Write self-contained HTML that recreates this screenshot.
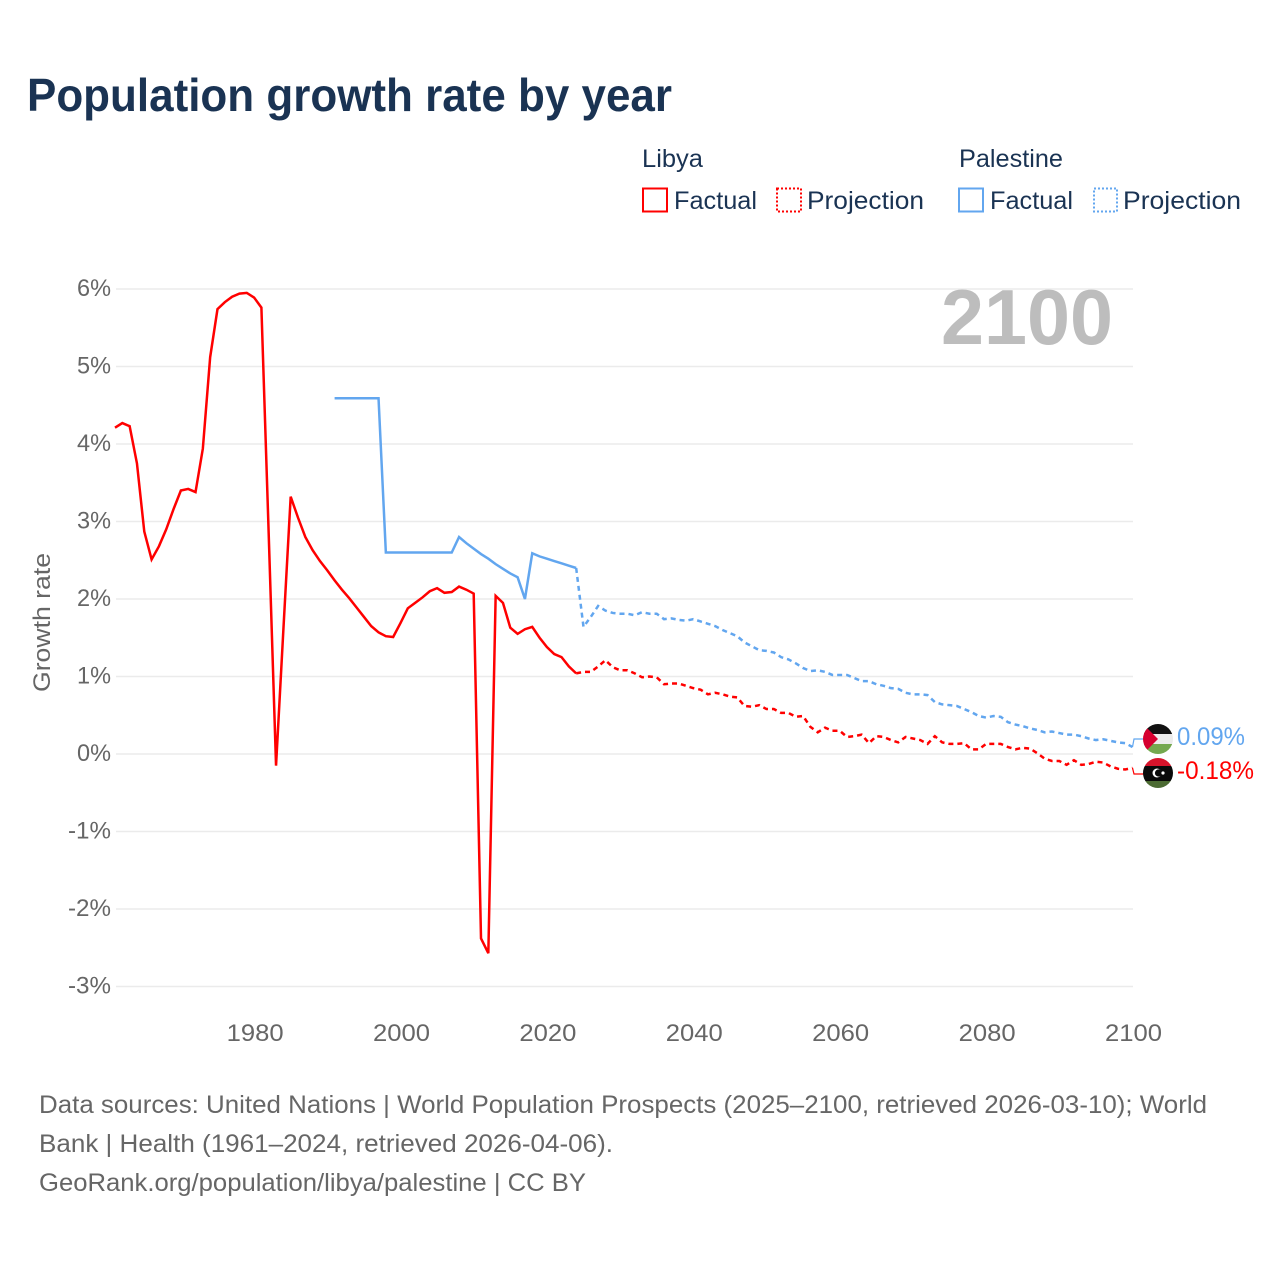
<!DOCTYPE html>
<html lang="en">
<head>
<meta charset="utf-8">
<title>Population growth rate by year</title>
<style>
html,body{margin:0;padding:0;background:#fff;width:1280px;height:1280px;overflow:hidden}
svg{display:block}
text{font-family:"Liberation Sans",sans-serif}
.tick{font-size:24px;fill:#666}
.foot{font-size:25px;fill:#666}
.leg{font-size:25px;fill:#1a3353}
</style>
</head>
<body>
<svg id="chart" width="1280" height="1280" viewBox="0 0 1280 1280" xmlns="http://www.w3.org/2000/svg">
  <defs>
    <clipPath id="clip-ps"><circle cx="1158" cy="739" r="15"/></clipPath>
    <clipPath id="clip-ly"><circle cx="1158" cy="773" r="15"/></clipPath>
  </defs>

  <text x="27" y="111" font-size="46" font-weight="700" fill="#1a3353" textLength="645" lengthAdjust="spacingAndGlyphs">Population growth rate by year</text>

  <g>
    <text class="leg" x="642" y="167" textLength="61" lengthAdjust="spacingAndGlyphs">Libya</text>
    <text class="leg" x="959" y="167" textLength="104" lengthAdjust="spacingAndGlyphs">Palestine</text>
    <rect x="643" y="188.500" width="24" height="23" fill="none" stroke="#ff0000" stroke-width="2"/>
    <text class="leg" x="674" y="209" textLength="83" lengthAdjust="spacingAndGlyphs">Factual</text>
    <rect x="777" y="188.500" width="24" height="23" fill="none" stroke="#ff0000" stroke-width="2" stroke-dasharray="2 2"/>
    <text class="leg" x="807" y="209" textLength="117" lengthAdjust="spacingAndGlyphs">Projection</text>
    <rect x="959" y="188.500" width="24" height="23" fill="none" stroke="#62a6ef" stroke-width="2"/>
    <text class="leg" x="990" y="209" textLength="83" lengthAdjust="spacingAndGlyphs">Factual</text>
    <rect x="1094" y="188.500" width="23" height="23" fill="none" stroke="#62a6ef" stroke-width="2" stroke-dasharray="2 2"/>
    <text class="leg" x="1123" y="209" textLength="118" lengthAdjust="spacingAndGlyphs">Projection</text>
  </g>

  <g id="grid"></g>
  <g id="yticks"></g>
  <g id="xticks"></g>

  <text x="941" y="344" font-size="78" font-weight="700" fill="#bdbdbd" textLength="172" lengthAdjust="spacingAndGlyphs">2100</text>

  <text class="tick" transform="translate(50,692) rotate(-90)" x="0" y="0" textLength="139" lengthAdjust="spacingAndGlyphs">Growth rate</text>

  <g id="series"></g>

  <g clip-path="url(#clip-ps)">
    <rect x="1143" y="724" width="30" height="10" fill="#111111"/>
    <rect x="1143" y="734" width="30" height="10" fill="#ececec"/>
    <rect x="1143" y="744" width="30" height="10" fill="#74a84f"/>
    <polygon points="1143,724 1158,739 1143,754" fill="#d6002f"/>
  </g>
  <g clip-path="url(#clip-ly)">
    <rect x="1143" y="758" width="30" height="8" fill="#d7142b"/>
    <rect x="1143" y="766" width="30" height="15" fill="#0a0a0a"/>
    <rect x="1143" y="781" width="30" height="7" fill="#4c6b33"/>
    <circle cx="1157" cy="773" r="4.500" fill="#ffffff"/>
    <circle cx="1158.500" cy="773" r="3.600" fill="#0a0a0a"/>
    <circle cx="1163" cy="773" r="1.600" fill="#ffffff"/>
  </g>

  <text x="1177" y="745" font-size="25" fill="#62a6ef" textLength="68" lengthAdjust="spacingAndGlyphs">0.09%</text>
  <text x="1177" y="779" font-size="25" fill="#ff0000" textLength="77" lengthAdjust="spacingAndGlyphs">-0.18%</text>

  <g>
    <text class="foot" x="39" y="1113" textLength="1168" lengthAdjust="spacingAndGlyphs">Data sources: United Nations | World Population Prospects (2025–2100, retrieved 2026-03-10); World</text>
    <text class="foot" x="39" y="1152" textLength="574" lengthAdjust="spacingAndGlyphs">Bank | Health (1961–2024, retrieved 2026-04-06).</text>
    <text class="foot" x="39" y="1191" textLength="547" lengthAdjust="spacingAndGlyphs">GeoRank.org/population/libya/palestine | CC BY</text>
  </g>
</svg>

<script>
const yTickValues = [6, 5, 4, 3, 2, 1, 0, -1, -2, -3];
const xTickYears = [1980, 2000, 2020, 2040, 2060, 2080, 2100];

const libyaFactualStart = 1961;
const libyaFactual = [4.21,4.27,4.23,3.75,2.87,2.51,2.68,2.90,3.16,3.40,3.42,3.38,3.94,5.12,5.74,5.83,5.90,5.94,5.95,5.89,5.76,2.83,-0.15,1.60,3.32,3.05,2.80,2.63,2.49,2.37,2.24,2.12,2.01,1.89,1.77,1.65,1.57,1.52,1.51,1.69,1.88,1.95,2.02,2.10,2.14,2.08,2.09,2.16,2.12,2.07,-2.38,-2.57,2.04,1.95,1.63,1.55,1.61,1.64,1.50,1.38,1.29,1.25,1.13,1.04];

const libyaProjectionStart = 2024;
const libyaProjection = [1.04,1.06,1.06,1.13,1.21,1.12,1.08,1.08,1.04,0.99,1.00,0.99,0.90,0.91,0.91,0.88,0.85,0.83,0.77,0.79,0.77,0.74,0.73,0.62,0.61,0.63,0.58,0.58,0.53,0.53,0.48,0.49,0.35,0.28,0.34,0.30,0.30,0.22,0.23,0.25,0.14,0.23,0.22,0.18,0.15,0.22,0.20,0.18,0.13,0.23,0.15,0.13,0.13,0.14,0.06,0.06,0.13,0.13,0.13,0.09,0.06,0.08,0.07,0.01,-0.06,-0.09,-0.09,-0.14,-0.08,-0.14,-0.13,-0.10,-0.11,-0.16,-0.19,-0.20,-0.18];

const palestineFactualStart = 1991;
const palestineFactual = [4.59,4.59,4.59,4.59,4.59,4.59,4.59,2.60,2.60,2.60,2.60,2.60,2.60,2.60,2.60,2.60,2.60,2.80,2.72,2.65,2.58,2.52,2.45,2.39,2.33,2.28,2.00,2.59,2.55,2.52,2.49,2.46,2.43,2.40];

const palestineProjectionStart = 2024;
const palestineProjection = [2.40,1.64,1.77,1.91,1.85,1.82,1.81,1.81,1.79,1.83,1.81,1.81,1.74,1.75,1.73,1.72,1.74,1.71,1.68,1.65,1.60,1.56,1.52,1.44,1.39,1.34,1.33,1.31,1.25,1.22,1.17,1.11,1.07,1.08,1.06,1.02,1.02,1.02,0.98,0.94,0.94,0.90,0.88,0.85,0.84,0.79,0.77,0.77,0.76,0.67,0.64,0.63,0.62,0.58,0.54,0.49,0.47,0.49,0.48,0.41,0.38,0.36,0.33,0.31,0.28,0.29,0.27,0.25,0.25,0.23,0.20,0.18,0.19,0.17,0.15,0.14,0.09];

const NS = 'http://www.w3.org/2000/svg';

function xScale(year) {
  return 115 + (year - 1961) * (1132.5 - 115) / (2100 - 1961);
}
function yScale(value) {
  return 754 - value * 77.5;
}
function pathFrom(values, startYear) {
  return values.map(function (v, i) {
    return (i ? 'L' : 'M') + xScale(startYear + i).toFixed(2) + ' ' + yScale(v).toFixed(2);
  }).join(' ');
}

const gridGroup = document.getElementById('grid');
const yTickGroup = document.getElementById('yticks');
yTickValues.forEach(function (v) {
  const line = document.createElementNS(NS, 'line');
  
  
  line.setAttribute('x1', 116);
  line.setAttribute('x2', 1133);
  line.setAttribute('y1', yScale(v));
  line.setAttribute('y2', yScale(v));
  line.setAttribute('stroke', '#ebebeb');
  line.setAttribute('stroke-width', '1.5');
  gridGroup.appendChild(line);

  const label = document.createElementNS(NS, 'text');
  
  
  label.setAttribute('class', 'tick');
  label.setAttribute('x', v < 0 ? 68 : 77);
  label.setAttribute('y', yScale(v) + 7);
  label.setAttribute('textLength', v < 0 ? 43 : 34);
  label.setAttribute('lengthAdjust', 'spacingAndGlyphs');
  label.textContent = v + '%';
  yTickGroup.appendChild(label);
});

const xTickGroup = document.getElementById('xticks');
xTickYears.forEach(function (y) {
  const label = document.createElementNS(NS, 'text');
  
  
  label.setAttribute('class', 'tick');
  label.setAttribute('x', xScale(y) - 27.5);
  label.setAttribute('y', 1041);
  label.setAttribute('textLength', 57);
  label.setAttribute('lengthAdjust', 'spacingAndGlyphs');
  label.textContent = y;
  xTickGroup.appendChild(label);
});

const seriesGroup = document.getElementById('series');

function addLine(d, color, dashed) {
  const p = document.createElementNS(NS, 'path');
  p.setAttribute('d', d);
  p.setAttribute('fill', 'none');
  p.setAttribute('stroke', color);
  p.setAttribute('stroke-width', '2.5');
  p.setAttribute('stroke-linejoin', 'miter');
  if (dashed) p.setAttribute('stroke-dasharray', '5 4');
  seriesGroup.appendChild(p);
  return p;
}

const palFactualLine = addLine(pathFrom(palestineFactual, palestineFactualStart), '#62a6ef', false);



const palProjLine = addLine(pathFrom(palestineProjection, palestineProjectionStart), '#62a6ef', true);



const libFactualLine = addLine(pathFrom(libyaFactual, libyaFactualStart), '#ff0000', false);



const libProjLine = addLine(pathFrom(libyaProjection, libyaProjectionStart), '#ff0000', true);



const palLast = palestineProjection[palestineProjection.length - 1];
const libLast = libyaProjection[libyaProjection.length - 1];

const palLeader = addLine('M' + xScale(2100) + ' ' + yScale(palLast) + ' L1134 739 L1145 739', '#62a6ef', false);
palLeader.setAttribute('stroke-width', '1.2');



const libLeader = addLine('M' + xScale(2100) + ' ' + yScale(libLast) + ' L1134 774 L1145 774', '#ff0000', false);
libLeader.setAttribute('stroke-width', '1.2');


</script>
</body>
</html>
